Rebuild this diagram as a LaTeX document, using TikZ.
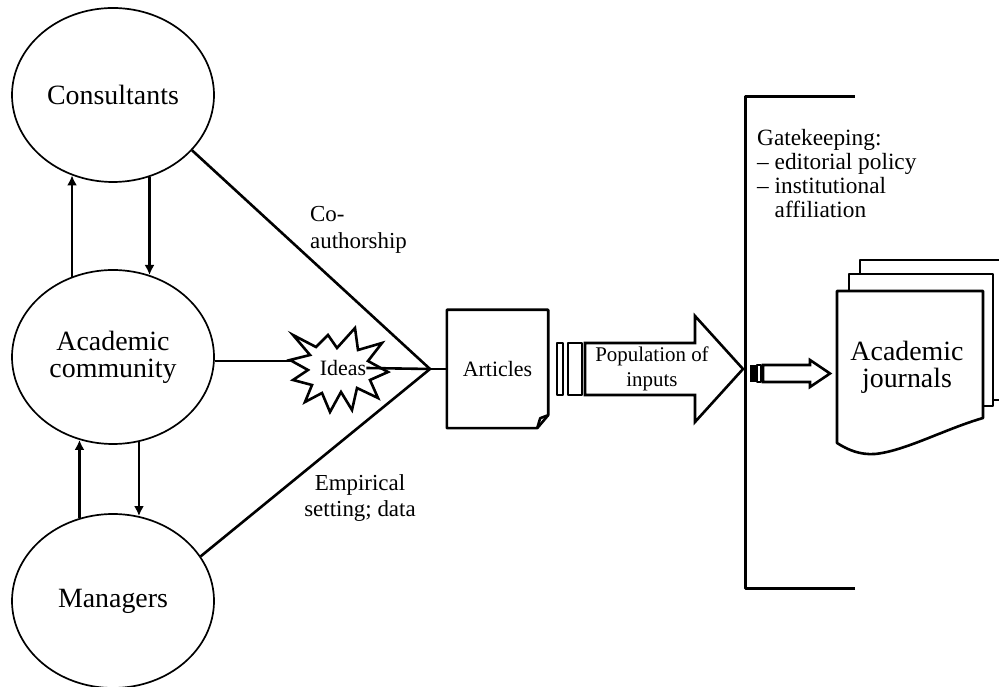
\documentclass[tikz,border=0pt]{standalone}
\usepackage{fontspec}
\setmainfont{Liberation Serif}
\usetikzlibrary{shapes.geometric,arrows.meta}

\tikzset{
  actor/.style={ellipse, draw, line width=1.7bp, minimum width=202bp, minimum height=174bp,
    inner sep=0pt, align=center, font=\fontsize{28}{27}\selectfont},
  flow/.style={line width=2.6bp},
  edgelabel/.style={inner sep=0pt, align=left, font=\fontsize{23}{27}\selectfont},
  shapetext/.style={inner sep=0pt, align=center, font=\fontsize{22}{25}\selectfont},
  bigfont/.style={inner sep=0pt, align=center, font=\fontsize{28}{27}\selectfont},
}

\begin{document}
\begin{tikzpicture}[>={Latex[length=10bp,width=10bp]},line join=bevel,]
  \useasboundingbox (0bp,0bp) rectangle (999bp,687bp);
%%
  % Node: cons
  \node[actor] (cons) at (113bp,592bp) {Consultants};
  % Node: acad
  \node[actor] (acad) at (113bp,330bp) {Academic\\community};
  % Node: mgr
  \node[actor] (mgr) at (113bp,86bp) {Managers};
  % Edge: acad -> cons
  \draw [->,flow] (acad.117) -- (cons.243);
  % Edge: cons -> acad
  \draw [->,flow] (cons.294) -- (acad.66);
  % Edge: mgr -> acad
  \draw [->,flow] (mgr.112) -- (acad.248);
  % Edge: acad -> mgr
  \draw [->,flow] (acad.287) -- (mgr.73);
  % Node: ideas
  \node[shapetext] (ideas) at (343bp,319bp) {Ideas};
  \coordinate (ideasL) at (291bp,326bp);
  \draw [flow,line join=miter] (293bp,352bp) -- (316bp,340bp) -- (328bp,352bp) -- (337bp,339bp)
    -- (355bp,359bp) -- (358bp,337bp) -- (382bp,344bp) -- (368bp,326bp) -- (388bp,315bp)
    -- (370bp,307bp) -- (378bp,289bp) -- (357bp,299bp) -- (352bp,277bp) -- (341bp,295bp)
    -- (330bp,275bp) -- (322bp,294bp) -- (305bp,285bp) -- (312bp,302bp) -- (293bp,307bp)
    -- (308bp,317bp) -- (290bp,327bp) -- (310bp,332bp) -- cycle;
  % Edge: acad -> ideas
  \draw [flow] (acad.east |- ideasL) -- (ideasL);
  % Edges: cons, mgr -> apex
  \coordinate (apex) at (430bp,318bp);
  \draw [flow,line join=miter] (cons.-35) -- (apex) -- (mgr.27);
  \draw [flow] (apex) -- (ideas.east);
  \node[edgelabel, anchor=north west] (coauth) at (310bp,481bp) {Co-\\authorship};
  \node[edgelabel, anchor=north, align=center] (empir) at (360bp,213bp) {Empirical\\setting; data};
  % Node: art
  \node[shapetext, minimum width=101bp, minimum height=118bp] (art) at (497.5bp,318bp) {Articles};
  \draw [flow] (art.north west) -- (art.north east) -- ([yshift=13bp]art.south east)
    -- ([xshift=-11bp]art.south east) -- (art.south west) -- cycle;
  \draw [flow] ([xshift=-11bp]art.south east) -- ([xshift=-8bp,yshift=10bp]art.south east)
    -- ([yshift=13bp]art.south east);
  \draw [flow] (apex) -- (art.west);
  % Node: pop
  \draw [flow] (557bp,292bp) rectangle (563bp,344bp);
  \draw [flow] (568bp,292bp) rectangle (582bp,344bp);
  \draw [flow,line join=miter] (585bp,344bp) -- (695bp,344bp) -- (695bp,371bp) -- (743bp,318bp)
    -- (695bp,265bp) -- (695bp,292bp) -- (585bp,292bp) -- cycle;
  \node[shapetext, font=\fontsize{21}{25}\selectfont] (pop) at (652bp,318bp) {Population of\\inputs};
  % Node: gate
  \draw [line width=3bp] (855bp,98bp) -- (745bp,98bp) -- (745bp,590bp) -- (855bp,590bp);
  \node[edgelabel, anchor=north west, font=\fontsize{23.4}{24}\selectfont] (gate) at (757bp,558bp)
    {Gatekeeping:\\– editorial policy\\– institutional\\\hphantom{– }affiliation};
  \fill (750bp,305bp) rectangle (757bp,322bp);
  \draw [line width=1.5bp] (757bp,305bp) rectangle (761bp,322bp);
  \draw [flow,line join=miter] (763bp,322bp) -- (810bp,322bp) -- (810bp,327bp) -- (830bp,313.5bp)
    -- (810bp,300bp) -- (810bp,305bp) -- (763bp,305bp) -- cycle;
  % Node: jour
  \draw [flow] (993bp,287bp) -- (1010bp,287bp) -- (1010bp,427bp) -- (860bp,427bp) -- (860bp,413bp);
  \draw [flow] (983bp,281bp) -- (993bp,281bp) -- (993bp,413bp) -- (849bp,413bp) -- (849bp,396bp);
  \draw [flow] (837bp,244bp) -- (837bp,396bp) -- (983bp,396bp) -- (983bp,269bp)
    .. controls (945bp,258bp) and (905bp,236bp) .. (875bp,233bp)
    .. controls (860bp,232bp) and (848bp,237bp) .. (837bp,244bp) -- cycle;
  \node[bigfont] (jour) at (907bp,320bp) {Academic\\journals};
%
\end{tikzpicture}
\end{document}
